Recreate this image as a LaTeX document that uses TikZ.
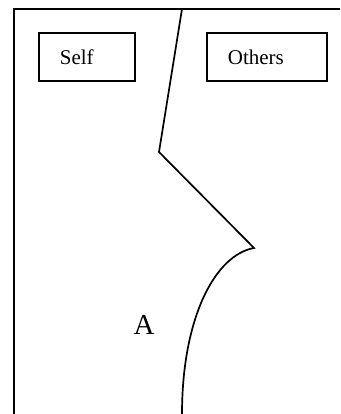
\documentclass[tikz,border=0pt]{standalone}
\usepackage{fontspec}
\setmainfont{Liberation Serif}
\begin{document}
\begin{tikzpicture}[x=1pt,y=-1pt,
  line/.style={line width=1.7pt, black},
  labelbox/.style={draw, line width=1.7pt, minimum height=48pt, inner xsep=21pt, inner ysep=0pt, align=left, anchor=north west, font=\fontsize{21}{24}\selectfont},
  bigtext/.style={font=\fontsize{29}{34}\selectfont, inner sep=0pt}]
\useasboundingbox (0,0) rectangle (340,414);
% outer frame
\coordinate (tr) at (340,9);
\coordinate (tl) at (14,9);
\coordinate (bl) at (14,414);
\draw[line] (tr) -- (tl) -- (bl);
% boxes
\node[labelbox, text width=54pt] (self) at (38,32) {Self};
\node[labelbox, text width=78pt] (others) at (206,32) {Others};
% divider
\coordinate (d0) at (182,9);
\coordinate (d1) at (159,152);
\coordinate (d2) at (254,248);
\coordinate (d3) at (182,414);
\draw[line, line join=miter] (d0) -- (d1) -- (d2) .. controls (215,255) and (182,318) .. (d3);
% label A
\node[bigtext] (a) at (144,325) {A};
\end{tikzpicture}
\end{document}
